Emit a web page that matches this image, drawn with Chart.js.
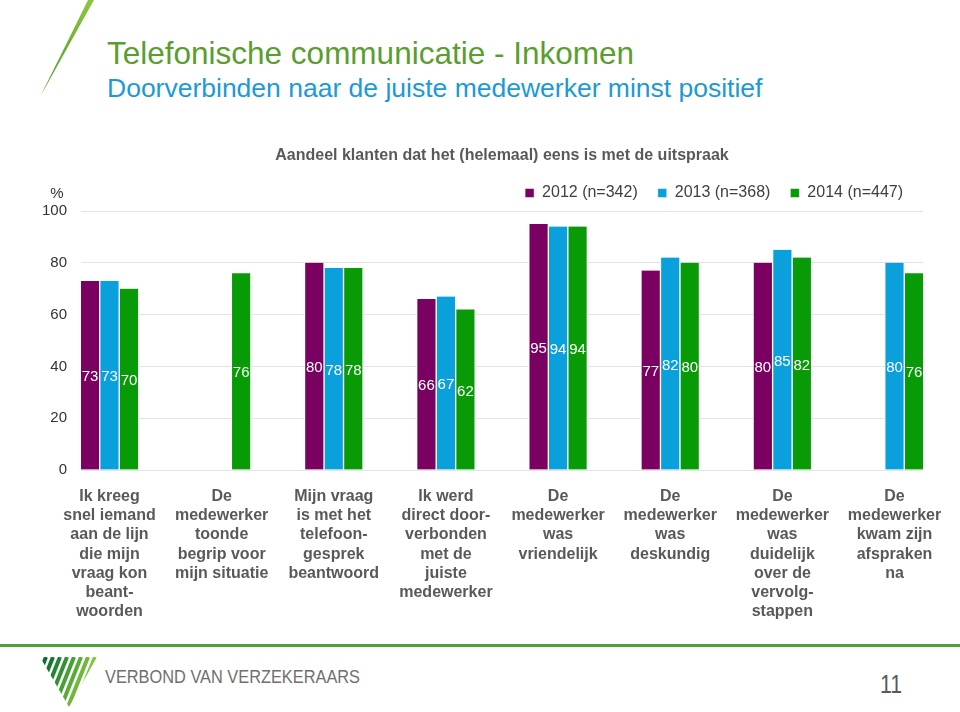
<!DOCTYPE html>
<html>
<head>
<meta charset="utf-8">
<script src="https://cdn.jsdelivr.net/npm/chart.js@4.4.1/dist/chart.umd.min.js"></script>
<style>
  body { margin: 0; width: 960px; height: 712px; background: #fff; position: relative; overflow: hidden; font-family: "Liberation Sans", Arial, sans-serif; }
  #deco { position: absolute; left: 0; top: 0; }
  #chart { position: absolute; left: 0; top: 130px; }
</style>
</head>
<body>
<svg id="deco" width="960" height="712">
  <defs>
    <linearGradient id="lime" x1="0" y1="1" x2="0" y2="0">
      <stop offset="0" stop-color="#4f9a2a"/>
      <stop offset="1" stop-color="#8cc63f"/>
    </linearGradient>
    <clipPath id="tri"><polygon points="40,657 97,657 69,707"/></clipPath>
  </defs>
  <polygon points="40,97 88,0 94,0" fill="url(#lime)"/>
  <text x="107" y="64" font-size="31.5" fill="#5a9e2d">Telefonische communicatie - Inkomen</text>
  <text x="107" y="97" font-size="26.5" fill="#1b9ad5">Doorverbinden naar de juiste medewerker minst positief</text>

  <rect x="0" y="644" width="960" height="3" fill="#4ea03a"/>
  <g clip-path="url(#tri)" stroke-width="4">
    <line x1="46" y1="657" x2="26" y2="707" stroke="#0d6b2f"/>
    <line x1="53" y1="657" x2="33" y2="707" stroke="#17772f"/>
    <line x1="60" y1="657" x2="40" y2="707" stroke="#238431"/>
    <line x1="67" y1="657" x2="47" y2="707" stroke="#339134"/>
    <line x1="74" y1="657" x2="54" y2="707" stroke="#469f37"/>
    <line x1="81" y1="657" x2="61" y2="707" stroke="#5aac3a"/>
    <line x1="88" y1="657" x2="68" y2="707" stroke="#6fb83d"/>
    <line x1="95" y1="657" x2="75" y2="707" stroke="#86c440"/>
  </g>
  <text x="105" y="683" font-size="19" fill="#6f6f6f" textLength="255" lengthAdjust="spacingAndGlyphs">VERBOND VAN VERZEKERAARS</text>
  <text x="880" y="693" font-size="25" fill="#595959" textLength="22" lengthAdjust="spacingAndGlyphs">11</text>
</svg>
<canvas id="chart" width="960" height="500"></canvas>
<script>
const categories = [
  ["Ik kreeg", "snel iemand", "aan de lijn", "die mijn", "vraag kon", "beant-", "woorden"],
  ["De", "medewerker", "toonde", "begrip voor", "mijn situatie"],
  ["Mijn vraag", "is met het", "telefoon-", "gesprek", "beantwoord"],
  ["Ik werd", "direct door-", "verbonden", "met de", "juiste", "medewerker"],
  ["De", "medewerker", "was", "vriendelijk"],
  ["De", "medewerker", "was", "deskundig"],
  ["De", "medewerker", "was", "duidelijk", "over de", "vervolg-", "stappen"],
  ["De", "medewerker", "kwam zijn", "afspraken", "na"]
];
const values2012 = [73, null, 80, 66, 95, 77, 80, null];
const values2013 = [73, null, 78, 67, 94, 82, 85, 80];
const values2014 = [70, 76, 78, 62, 94, 80, 82, 76];
const seriesNames = ["2012 (n=342)", "2013 (n=368)", "2014 (n=447)"];
const yTicks = [0, 20, 40, 60, 80, 100];

const FONT = "'Liberation Sans', Arial, sans-serif";

function toPoints(vals) {
  return vals.map((v, i) => ({ x: i, y: v }));
}

// waarden midden in de staaf
const barLabels = {
  id: "barLabels",
  afterDatasetsDraw(chart) {
    const ctx = chart.ctx;
    ctx.save();
    ctx.font = "15px " + FONT;
    ctx.fillStyle = "#ffffff";
    ctx.textAlign = "center";
    ctx.textBaseline = "middle";
    chart.data.datasets.forEach((ds, di) => {
      const meta = chart.getDatasetMeta(di);
      meta.data.forEach((bar, i) => {
        const v = ds.data[i].y;
        if (v === null) return;
        const { x, y, base } = bar.getProps(["x", "y", "base"], true);
        ctx.fillText(String(v), x, (y + base) / 2 + 2);
      });
    });
    ctx.restore();
  },
  afterDraw(chart) {
    const ctx = chart.ctx;
    const y = chart.scales.y;
    ctx.save();
    ctx.font = "15px " + FONT;
    ctx.fillStyle = "#333333";
    ctx.textAlign = "center";
    ctx.textBaseline = "middle";
    ctx.fillText("%", 57, y.getPixelForValue(100) - 17);
    ctx.restore();
  }
};

const barStyle = {
  barThickness: 19.5,
  borderWidth: { left: 1, right: 1, top: 0, bottom: 0 },
  borderColor: "#ffffff",
  borderSkipped: false
};

new Chart(document.getElementById("chart"), {
  type: "bar",
  data: {
    datasets: [
      { label: seriesNames[0], data: toPoints(values2012), backgroundColor: "#7a0062", ...barStyle },
      { label: seriesNames[1], data: toPoints(values2013), backgroundColor: "#0aa0dc", ...barStyle },
      { label: seriesNames[2], data: toPoints(values2014), backgroundColor: "#089a07", ...barStyle }
    ]
  },
  options: {
    responsive: false,
    animation: false,
    devicePixelRatio: 1,
    layout: { padding: { left: 0, right: 37, top: 0, bottom: 0 } },
    plugins: {
      tooltip: { enabled: false },
      title: {
        display: true,
        fullSize: false,
        text: "Aandeel klanten dat het (helemaal) eens is met de uitspraak",
        color: "#595959",
        font: { family: FONT, size: 16, weight: "bold" },
        padding: { top: 16.4, bottom: -0.6 }
      },
      legend: {
        display: true,
        fullSize: false,
        align: "end",
        labels: {
          color: "#404040",
          font: { family: FONT, size: 16 },
          boxWidth: 9,
          boxHeight: 9,
          padding: 20
        }
      }
    },
    scales: {
      x: {
        type: "linear",
        offset: false,
        min: -0.254,
        max: 7.254,
        bounds: "data",
        grid: { display: false, drawTicks: false },
        border: { display: false },
        afterBuildTicks: (axis) => {
          axis.ticks = categories.map((c, i) => ({ value: i }));
        },
        afterFit: (axis) => { axis.height = 160; },
        ticks: {
          padding: 17,
          maxRotation: 0,
          autoSkip: false,
          color: "#595959",
          font: { family: FONT, size: 16, weight: "bold", lineHeight: 1.2 },
          callback: (value) => categories[value]
        }
      },
      y: {
        min: 0,
        max: 100,
        afterBuildTicks: (axis) => {
          axis.ticks = yTicks.map((v) => ({ value: v }));
        },
        afterFit: (axis) => { axis.width = 81; },
        grid: { color: "#e3e3e3", drawTicks: false },
        border: { display: false },
        ticks: {
          padding: 14,
          color: "#333333",
          font: { family: FONT, size: 15 }
        }
      }
    }
  },
  plugins: [barLabels]
});
</script>
</body>
</html>
